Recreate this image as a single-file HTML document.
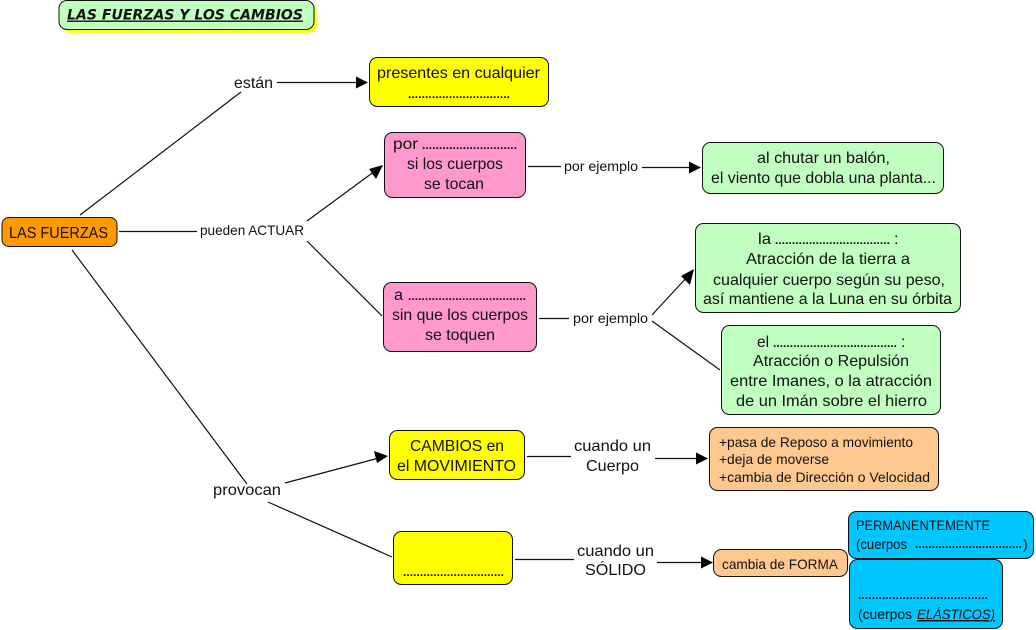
<!DOCTYPE html>
<html><head><meta charset="utf-8"><style>
html,body{margin:0;padding:0;background:#fff}
svg{display:block}
text{font-family:"Liberation Sans",sans-serif;font-size:16px;fill:#111}
.s{font-size:14px}
.d{font-size:12px;font-weight:bold}
rect{stroke:#111;stroke-width:1}
line{stroke:#111;stroke-width:1.2}
polygon{fill:#000}
</style></head><body>
<svg width="1036" height="630" viewBox="0 0 1036 630" xmlns="http://www.w3.org/2000/svg">
<defs><filter id="b" x="-5%" y="-20%" width="110%" height="140%"><feGaussianBlur stdDeviation="0.8"/></filter></defs>
<!-- connectors -->
<line x1="80" y1="215" x2="241" y2="92"/>
<line x1="277" y1="82.5" x2="360" y2="82.5"/><polygon points="368,82.5 356,76.5 356,88.5"/>
<line x1="119" y1="231.5" x2="197" y2="231.5"/>
<line x1="307" y1="221" x2="375" y2="171"/><polygon points="383,165 369,169 376,179"/>
<line x1="307" y1="241" x2="382" y2="316"/>
<line x1="528" y1="166.5" x2="561" y2="166.5"/>
<line x1="642" y1="167.5" x2="692" y2="167.5"/><polygon points="701,167.5 689,161.5 689,173.5"/>
<line x1="539" y1="318.5" x2="569" y2="318.5"/>
<line x1="652" y1="315" x2="688" y2="276"/><polygon points="694,269 681,276 690,285"/>
<line x1="652" y1="321" x2="720" y2="370"/>
<line x1="72" y1="250" x2="247" y2="484"/>
<line x1="285" y1="483" x2="379" y2="458"/><polygon points="388,456 374,451 377,463"/>
<line x1="268" y1="502" x2="392" y2="557"/>
<line x1="527" y1="456.5" x2="571" y2="456.5"/>
<line x1="655" y1="458.5" x2="699" y2="458.5"/><polygon points="708,458.5 696,452.5 696,464.5"/>
<line x1="515" y1="559.5" x2="574" y2="559.5"/>
<line x1="657" y1="562.5" x2="704" y2="562.5"/><polygon points="713,562.5 701,556.5 701,568.5"/>
<!-- title -->
<rect x="63" y="4" width="254" height="29" rx="8" filter="url(#b)" style="fill:#ffff00;stroke:none"/>
<rect x="59" y="0.5" width="255" height="29" rx="8" style="fill:#c0ffc0"/>
<text x="67" y="19.5" textLength="236" lengthAdjust="spacingAndGlyphs" style="font-family:'DejaVu Sans',sans-serif;font-size:14px;font-weight:bold;font-style:italic;text-decoration:underline">LAS FUERZAS Y LOS CAMBIOS</text>
<!-- nodes -->
<rect x="2" y="217.5" width="115" height="29" rx="7" style="fill:#ff9900"/>
<rect x="369.5" y="57.5" width="179" height="49" rx="8" style="fill:#ffff00"/>
<rect x="384.5" y="132.5" width="141" height="65" rx="8" style="fill:#ff99cc"/>
<rect x="702.5" y="142.5" width="241" height="51" rx="8" style="fill:#c0ffc0"/>
<rect x="695.5" y="223.5" width="265" height="89" rx="8" style="fill:#c0ffc0"/>
<rect x="721.5" y="325.5" width="219" height="89" rx="8" style="fill:#c0ffc0"/>
<rect x="383.5" y="282.5" width="153" height="69" rx="8" style="fill:#ff99cc"/>
<rect x="389.5" y="430.5" width="135" height="49" rx="8" style="fill:#ffff00"/>
<rect x="393.5" y="531.5" width="119" height="53" rx="8" style="fill:#ffff00"/>
<rect x="709.5" y="427.5" width="229" height="63" rx="8" style="fill:#ffc88f"/>
<rect x="848.5" y="511.5" width="185" height="47" rx="8" style="fill:#00c6ff"/>
<rect x="849.5" y="559.5" width="153" height="69" rx="8" style="fill:#00c6ff"/>
<rect x="713.5" y="549.5" width="134" height="27" rx="8" style="fill:#ffc88f"/>
<!-- text -->
<text x="9" y="238" textLength="99" lengthAdjust="spacingAndGlyphs">LAS FUERZAS</text>
<text x="234" y="88" textLength="39" lengthAdjust="spacingAndGlyphs">están</text>
<text class="s" x="200" y="235" textLength="104" lengthAdjust="spacingAndGlyphs">pueden ACTUAR</text>
<text x="213" y="495" textLength="68" lengthAdjust="spacingAndGlyphs">provocan</text>
<text x="377" y="78" textLength="163" lengthAdjust="spacingAndGlyphs">presentes en cualquier</text>
<text class="d" x="408" y="98" textLength="102">..............................</text>
<text x="393" y="149" textLength="25" lengthAdjust="spacingAndGlyphs">por</text>
<text class="d" x="422" y="149" textLength="95">............................</text>
<text x="407" y="169" textLength="96" lengthAdjust="spacingAndGlyphs">si los cuerpos</text>
<text x="424" y="189" textLength="60" lengthAdjust="spacingAndGlyphs">se tocan</text>
<text class="s" x="564" y="171" textLength="74" lengthAdjust="spacingAndGlyphs">por ejemplo</text>
<text x="757" y="163" textLength="133" lengthAdjust="spacingAndGlyphs">al chutar un balón,</text>
<text x="711" y="183" textLength="225" lengthAdjust="spacingAndGlyphs">el viento que dobla una planta...</text>
<text x="394" y="300" textLength="9" lengthAdjust="spacingAndGlyphs">a</text>
<text class="d" x="408" y="300" textLength="118">...................................</text>
<text x="392" y="320" textLength="136" lengthAdjust="spacingAndGlyphs">sin que los cuerpos</text>
<text x="425" y="340" textLength="70" lengthAdjust="spacingAndGlyphs">se toquen</text>
<text class="s" x="573" y="323" textLength="75" lengthAdjust="spacingAndGlyphs">por ejemplo</text>
<text x="758" y="244" textLength="13" lengthAdjust="spacingAndGlyphs">la</text>
<text class="d" x="775" y="244" textLength="115">..................................</text>
<text x="894" y="244">:</text>
<text x="746" y="264" textLength="164" lengthAdjust="spacingAndGlyphs">Atracción de la tierra a</text>
<text x="713" y="285" textLength="232" lengthAdjust="spacingAndGlyphs">cualquier cuerpo según su peso,</text>
<text x="703" y="304" textLength="249" lengthAdjust="spacingAndGlyphs">así mantiene a la Luna en su órbita</text>
<text x="757" y="347" textLength="12" lengthAdjust="spacingAndGlyphs">el</text>
<text class="d" x="773" y="347" textLength="124">.....................................</text>
<text x="901" y="347">:</text>
<text x="753" y="366" textLength="156" lengthAdjust="spacingAndGlyphs">Atracción o Repulsión</text>
<text x="730" y="386" textLength="202" lengthAdjust="spacingAndGlyphs">entre Imanes, o la atracción</text>
<text x="736" y="406" textLength="191" lengthAdjust="spacingAndGlyphs">de un Imán sobre el hierro</text>
<text x="410" y="451" textLength="94" lengthAdjust="spacingAndGlyphs">CAMBIOS en</text>
<text x="397" y="471" textLength="119" lengthAdjust="spacingAndGlyphs">el MOVIMIENTO</text>
<text class="d" x="403" y="576" textLength="101">..............................</text>
<text x="574" y="451" textLength="77" lengthAdjust="spacingAndGlyphs">cuando un</text>
<text x="586" y="471" textLength="53" lengthAdjust="spacingAndGlyphs">Cuerpo</text>
<text x="577" y="556" textLength="77" lengthAdjust="spacingAndGlyphs">cuando un</text>
<text x="585" y="575" textLength="61" lengthAdjust="spacingAndGlyphs">SÓLIDO</text>
<text class="s" x="719" y="447" textLength="194" lengthAdjust="spacingAndGlyphs">+pasa de Reposo a movimiento</text>
<text class="s" x="719" y="464" textLength="110" lengthAdjust="spacingAndGlyphs">+deja de moverse</text>
<text class="s" x="719" y="482" textLength="211" lengthAdjust="spacingAndGlyphs">+cambia de Dirección o Velocidad</text>
<text class="s" x="722" y="569" textLength="116" lengthAdjust="spacingAndGlyphs">cambia de FORMA</text>
<text class="s" x="856" y="530" textLength="134" lengthAdjust="spacingAndGlyphs">PERMANENTEMENTE</text>
<text class="s" x="856" y="549" textLength="51" lengthAdjust="spacingAndGlyphs">(cuerpos</text>
<text class="d" x="915" y="548" textLength="107">................................</text>
<text class="s" x="1023" y="549">)</text>
<text class="d" x="858" y="599" textLength="130">......................................</text>
<text class="s" x="858" y="619" textLength="54" lengthAdjust="spacingAndGlyphs">(cuerpos</text>
<text class="s" x="917" y="619" textLength="78" lengthAdjust="spacingAndGlyphs" style="font-style:italic;text-decoration:underline">ELÁSTICOS)</text>
</svg>
</body></html>
